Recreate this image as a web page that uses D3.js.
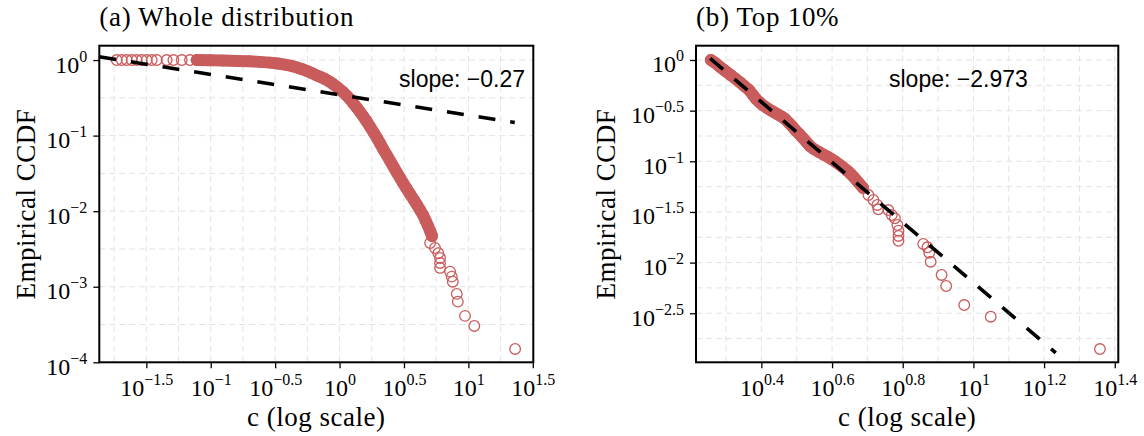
<!DOCTYPE html>
<html>
<head>
<meta charset="utf-8">
<script src="https://cdn.jsdelivr.net/npm/d3@7"></script>
<style>
  body { margin: 0; background: #fff; }
  svg { display: block; }
</style>
</head>
<body>
<script>
// all values are log10 exponents: [log10 c, log10 CCDF]

// (a) whole distribution
var headA = [[-1.730, 0], [-1.691, 0], [-1.652, 0], [-1.613, 0], [-1.575, 0], [-1.536, 0],
  [-1.497, 0], [-1.458, 0], [-1.419, 0], [-1.342, 0], [-1.290, 0], [-1.225, 0], [-1.161, 0]]
var bandA = [[-1.109, 0], [-1.0, -0.002], [-0.905, -0.007], [-0.8, -0.011], [-0.695, -0.017],
  [-0.62, -0.024], [-0.540, -0.034], [-0.48, -0.045], [-0.423, -0.060], [-0.375, -0.077],
  [-0.330, -0.099], [-0.29, -0.121], [-0.252, -0.146], [-0.213, -0.174], [-0.175, -0.205],
  [-0.143, -0.228], [-0.113, -0.251], [-0.082, -0.282], [-0.051, -0.317], [-0.012, -0.368],
  [0.027, -0.423], [0.054, -0.468], [0.081, -0.516], [0.108, -0.575], [0.136, -0.635],
  [0.159, -0.688], [0.182, -0.741], [0.21, -0.81], [0.237, -0.882], [0.264, -0.957],
  [0.291, -1.032], [0.315, -1.105], [0.338, -1.177], [0.366, -1.257], [0.393, -1.336],
  [0.42, -1.415], [0.447, -1.495], [0.47, -1.561], [0.493, -1.627], [0.52, -1.70],
  [0.547, -1.772], [0.575, -1.845], [0.602, -1.918], [0.625, -1.984], [0.648, -2.050],
  [0.668, -2.123], [0.687, -2.196], [0.703, -2.262], [0.718, -2.328]]
var tailA = [[0.703, -2.421], [0.741, -2.487], [0.767, -2.557], [0.780, -2.619], [0.780, -2.685],
  [0.780, -2.751], [0.858, -2.800], [0.871, -2.866], [0.879, -2.933], [0.910, -3.095],
  [0.918, -3.197], [0.974, -3.386], [1.046, -3.519], [1.363, -3.823]]

// (b) top 10%
var bandB = [[0.257, 0], [0.270, -0.030], [0.283, -0.068], [0.298, -0.108], [0.314, -0.150],
  [0.327, -0.186], [0.340, -0.222], [0.352, -0.258], [0.365, -0.295], [0.375, -0.340],
  [0.385, -0.385], [0.395, -0.418], [0.405, -0.448], [0.416, -0.474], [0.426, -0.496],
  [0.437, -0.518], [0.447, -0.538], [0.457, -0.558], [0.467, -0.582], [0.481, -0.632],
  [0.489, -0.662], [0.497, -0.695], [0.508, -0.733], [0.518, -0.772], [0.528, -0.812],
  [0.538, -0.852], [0.550, -0.882], [0.563, -0.908], [0.576, -0.934], [0.589, -0.958],
  [0.598, -0.978], [0.608, -1.000], [0.619, -1.028], [0.630, -1.056], [0.645, -1.098],
  [0.653, -1.126], [0.661, -1.154], [0.673, -1.204], [0.688, -1.264]]
var tailB = [[0.703, -1.333], [0.717, -1.382], [0.728, -1.431], [0.731, -1.474], [0.759, -1.481],
  [0.769, -1.530], [0.778, -1.563], [0.785, -1.629], [0.788, -1.685], [0.788, -1.737],
  [0.788, -1.784], [0.858, -1.816], [0.870, -1.849], [0.875, -1.902], [0.879, -1.991],
  [0.910, -2.122], [0.923, -2.231], [0.974, -2.419], [1.049, -2.534], [1.358, -2.853]]

// fitted power laws: slope, intercept, x range (log10)
var fitA = { slope: -0.27, intercept: -0.46, range: [-1.865, 1.36] }
var fitB = { slope: -2.973, intercept: 0.775, range: [0.255, 1.233] }

// ticks and grid (log10)
var xTicksA = [-1.5, -1, -0.5, 0, 0.5, 1, 1.5]
var yTicksA = [-4, -3, -2, -1, 0]
var xGridA = [-1.75, -1.5, -1.25, -1, -0.75, -0.5, -0.25, 0, 0.25, 0.5, 0.75, 1, 1.25, 1.5]
var yGridA = [-4, -3.5, -3, -2.5, -2, -1.5, -1, -0.5, 0]
var xTicksB = [0.4, 0.6, 0.8, 1, 1.2, 1.4]
var yTicksB = [-2.5, -2, -1.5, -1, -0.5, 0]
var xGridB = [0.3, 0.4, 0.5, 0.6, 0.7, 0.8, 0.9, 1, 1.1, 1.2, 1.3, 1.4]
var yGridB = [-2.75, -2.5, -2.25, -2, -1.75, -1.5, -1.25, -1, -0.75, -0.5, -0.25, 0]

var red = '#c95c5c'
var serif = "'Liberation Serif','Times New Roman',serif"
var sans = "'Liberation Sans',Arial,sans-serif"
var pow10 = function(e) { return Math.pow(10, e) }

var svg = d3.select("body").append("svg")
    .attr("width", 1144)
    .attr("height", 436)
    .style("font-family", serif)

function expLabel(text, d) {
  var e = Math.round(Math.log10(d) * 10) / 10
  text.text(null)
  text.append("tspan").text("10")
  text.append("tspan")
      .attr("dy", -11)
      .style("font-size", "16px")
      .text(e < 0 ? "\u2212" + Math.abs(e) : String(e))
}

function panel(o) {
  var g = svg.append("g").attr("transform", "translate(" + o.left + "," + o.top + ")")
  var x = d3.scaleLog().domain(o.xDomain.map(pow10)).range([0, o.width])
  var y = d3.scaleLog().domain(o.yDomain.map(pow10)).range([o.height, 0])
  var px = function(d) { return x(pow10(d[0])) },
      py = function(d) { return y(pow10(d[1])) }

  // grid
  g.append("g").selectAll("line")
      .data(o.xGrid)
      .enter().append("line")
      .attr("x1", function(d) { return x(pow10(d)) })
      .attr("x2", function(d) { return x(pow10(d)) })
      .attr("y1", 0).attr("y2", o.height)
  g.append("g").selectAll("line")
      .data(o.yGrid)
      .enter().append("line")
      .attr("y1", function(d) { return y(pow10(d)) })
      .attr("y2", function(d) { return y(pow10(d)) })
      .attr("x1", 0).attr("x2", o.width)
  g.selectAll("g line")
      .attr("stroke", "#e2e2e2")
      .attr("stroke-width", 1)
      .attr("stroke-dasharray", "6,4")

  // dense part of the cloud: the overlapping rings read as a solid band
  g.append("path")
      .datum(o.band)
      .attr("d", d3.line().x(px).y(py))
      .attr("fill", "none")
      .attr("stroke", red)
      .attr("stroke-width", 12)
      .attr("stroke-linecap", "round")
      .attr("stroke-linejoin", "round")

  g.append("g").selectAll("circle")
      .data(o.head.concat(o.band, o.tail))
      .enter().append("circle")
      .attr("cx", px)
      .attr("cy", py)
      .attr("r", 5.3)
      .attr("fill", "none")
      .attr("stroke", red)
      .attr("stroke-width", 1.3)

  // fitted line
  g.append("path")
      .datum(o.fit.range)
      .attr("d", d3.line()
        .x(function(d) { return x(pow10(d)) })
        .y(function(d) { return y(pow10(o.fit.intercept + o.fit.slope * d)) }))
      .attr("fill", "none")
      .attr("stroke", "#000")
      .attr("stroke-width", 3.6)
      .attr("stroke-dasharray", "17,15")

  g.append("text")
      .attr("x", o.slopeX).attr("y", 41.5)
      .attr("text-anchor", o.slopeAnchor)
      .style("font-family", sans)
      .style("font-size", "23px")
      .text("slope: \u2212" + Math.abs(o.fit.slope))

  // frame
  g.append("rect")
      .attr("width", o.width).attr("height", o.height)
      .attr("fill", "none")
      .attr("stroke", "#000")
      .attr("stroke-width", 2)

  // axes
  var gx = g.append("g")
      .attr("transform", "translate(0," + o.height + ")")
      .call(d3.axisBottom(x).tickValues(o.xTicks.map(pow10)).tickSize(6).tickFormat(""))
  var gy = g.append("g")
      .call(d3.axisLeft(y).tickValues(o.yTicks.map(pow10)).tickSize(6).tickFormat(""))
  ;[gx, gy].forEach(function(a) {
    a.attr("font-family", null).attr("font-size", null)
    a.select(".domain").remove()
    a.selectAll(".tick line").attr("stroke", "#000").attr("stroke-width", 1.3)
  })
  gx.selectAll(".tick text")
      .attr("y", 34).attr("dy", null)
      .attr("text-anchor", "middle")
      .style("font-size", "24px")
      .each(function(d) { expLabel(d3.select(this), d) })
  gy.selectAll(".tick text")
      .attr("x", -12).attr("y", 12).attr("dy", null)
      .attr("text-anchor", "end")
      .style("font-size", "24px")
      .each(function(d) { expLabel(d3.select(this), d) })

  // titles
  g.append("text")
      .attr("x", 0).attr("y", 26 - o.top)
      .style("font-size", "27px")
      .style("letter-spacing", "0.7px")
      .text(o.title)
  g.append("text")
      .attr("x", o.width / 2).attr("y", 426.5 - o.top)
      .attr("text-anchor", "middle")
      .style("font-size", "27px")
      .style("letter-spacing", "0.5px")
      .text("c (log scale)")
  g.append("text")
      .attr("transform", "translate(" + o.yTitleX + "," + o.height / 2 + ") rotate(-90)")
      .attr("text-anchor", "middle")
      .style("font-size", "27px")
      .style("letter-spacing", "0.5px")
      .text("Empirical CCDF")
}

panel({
  left: 99.3, top: 45.7, width: 434, height: 316.6,
  xDomain: [-1.865, 1.504], yDomain: [-4, 0.19],
  xTicks: xTicksA, yTicks: yTicksA, xGrid: xGridA, yGrid: yGridA,
  head: headA, band: bandA, tail: tailA, fit: fitA,
  slopeX: 425.7, slopeAnchor: "end",
  title: "(a) Whole distribution", yTitleX: -64.5
})

panel({
  left: 696, top: 45.7, width: 422.3, height: 316.6,
  xDomain: [0.215, 1.41], yDomain: [-2.984, 0.141],
  xTicks: xTicksB, yTicks: yTicksB, xGrid: xGridB, yGrid: yGridB,
  head: [], band: bandB, tail: tailB, fit: fitB,
  slopeX: 193, slopeAnchor: "start",
  title: "(b) Top 10%", yTitleX: -81.5
})
</script>
</body>
</html>
